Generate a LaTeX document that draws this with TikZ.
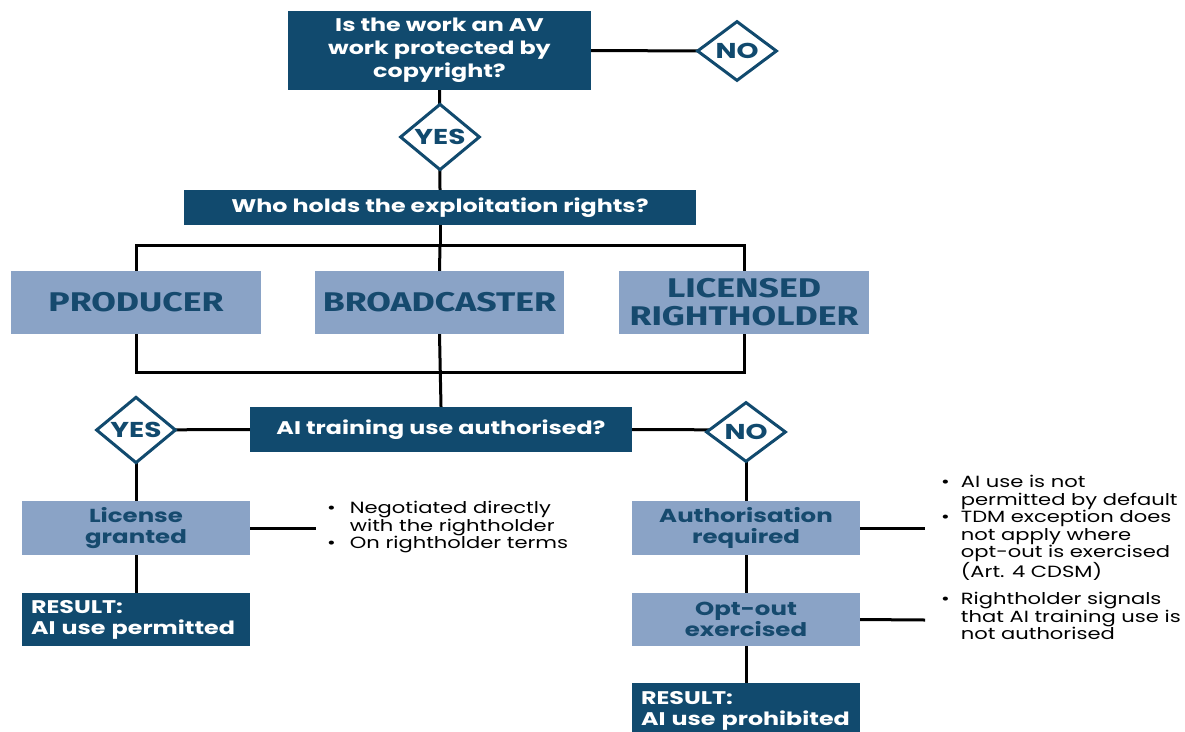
\documentclass[tikz,border=0pt]{standalone}
\usepackage{fontspec}
\setmainfont{Poppins}[FakeStretch=1.3]
\newfontfamily\capfont{Fira Sans}[FakeStretch=1.32]
\usetikzlibrary{shapes.geometric}
\definecolor{dkblue}{HTML}{114A6E}
\definecolor{ltblue}{HTML}{8AA3C6}
\definecolor{txblue}{HTML}{164A6E}
\tikzset{
  dkbox/.style={fill=dkblue, text=white, inner sep=0pt, align=center, font=\fontsize{18.3}{23}\selectfont\bfseries},
  ltbox/.style={fill=ltblue, text=txblue, inner sep=0pt, align=center, font=\fontsize{18.8}{21}\selectfont\bfseries},
  capbox/.style={fill=ltblue, text=txblue, inner sep=0pt, align=center, font=\capfont\fontsize{27}{28}\selectfont\bfseries},
  resbox/.style={fill=dkblue, text=white, inner sep=0pt, align=left, font=\fontsize{18.3}{21}\selectfont\bfseries},
  dec/.style={diamond, draw=dkblue, line width=3pt, fill=white, text=dkblue, inner sep=0pt, minimum width=80, minimum height=60, font=\fontsize{21.5}{22}\selectfont\bfseries},
  conn/.style={line width=3pt, black},
  blt/.style={inner sep=0pt, anchor=north west, align=left, font=\fontsize{16.2}{17.5}\selectfont}
}
\begin{document}
\begin{tikzpicture}[x=1pt,y=-1pt]
\useasboundingbox (0,0) rectangle (1185,731);
\clip (0,0) rectangle (1185,731);
% coordinates
\coordinate (tb) at (440,245);
\coordinate (bb) at (440,372);
\coordinate (e1) at (316,528);
\coordinate (e2) at (925,528);
\coordinate (e3) at (925,620);
% boxes
\node[dkbox, minimum width=303, minimum height=79] (q1) at (439.5,50.5) {Is the work an AV\\work protected by\\copyright?};
\node[dkbox, minimum width=512, minimum height=35] (q2) at (440,207.5) {Who holds the exploitation rights?};
\node[capbox, minimum width=250, minimum height=63] (prod) at (136,302.5) {PRODUCER};
\node[capbox, minimum width=249, minimum height=63] (broad) at (439.5,302.5) {BROADCASTER};
\node[capbox, minimum width=250, minimum height=63] (lic) at (744,302.5) {LICENSED\\RIGHTHOLDER};
\node[dkbox, minimum width=382, minimum height=45] (q3) at (441,429.5) {AI training use authorised?};
\node[ltbox, minimum width=228, minimum height=54] (lg) at (136,528) {License\\granted};
\node[resbox, minimum width=228, minimum height=53, text width=210] (r1) at (136,619.5) {RESULT:\\AI use permitted};
\node[ltbox, minimum width=228, minimum height=54] (ar) at (746,528) {Authorisation\\required};
\node[ltbox, minimum width=228, minimum height=53] (oo) at (746,619.5) {Opt-out\\exercised};
\node[resbox, minimum width=228, minimum height=56, text width=210] (r2) at (746,711) {RESULT:\\AI use prohibited};
% connectors (drawn before diamonds so diamonds sit on top)
\draw[conn] (q1.east) -- (705,51);
\draw[conn] (q1.south) -- (q2.north);
\draw[conn] (q2.south) -- (tb);
\draw[conn] (prod.north) -- (prod.north |- tb) -- (lic.north |- tb) -- (lic.north);
\draw[conn] (tb) -- (broad.north);
\draw[conn] (prod.south) -- (prod.south |- bb) -- (lic.south |- bb) -- (lic.south);
\draw[conn] (broad.south) -- (q3.north);
\draw[conn] (q3.west) -- (120,430);
\draw[conn] (q3.east) -- (760,430);
\draw[conn] (136,440) -- (lg.north);
\draw[conn] (lg.south) -- (r1.north);
\draw[conn] (746,440) -- (ar.north);
\draw[conn] (ar.south) -- (oo.north);
\draw[conn] (oo.south) -- (r2.north);
\draw[conn] (lg.east) -- (e1);
\draw[conn] (ar.east) -- (e2);
\draw[conn] (oo.east) -- (e3);
% diamonds
\node[dec] (no1) at (737,51) {NO};
\node[dec] (yes1) at (440,137) {YES};
\node[dec] (yes2) at (136,430) {YES};
\node[dec] (no2) at (746,432) {NO};
% bullets
\node[blt] (b1) at (327,501) {\textbullet\hspace{14pt}\parbox[t]{240pt}{Negotiated directly\\with the rightholder}\\\textbullet\hspace{14pt}On rightholder terms};
\node[blt] (b2) at (941,475) {\textbullet\hspace{11pt}\parbox[t]{230pt}{AI use is not\\permitted by default}\\\textbullet\hspace{11pt}\parbox[t]{230pt}{TDM exception does\\not apply where\\opt-out is exercised\\(Art. 4 CDSM)}};
\node[blt] (b3) at (941,592) {\textbullet\hspace{11pt}\parbox[t]{230pt}{Rightholder signals\\that AI training use is\\not authorised}};
\end{tikzpicture}
\end{document}
